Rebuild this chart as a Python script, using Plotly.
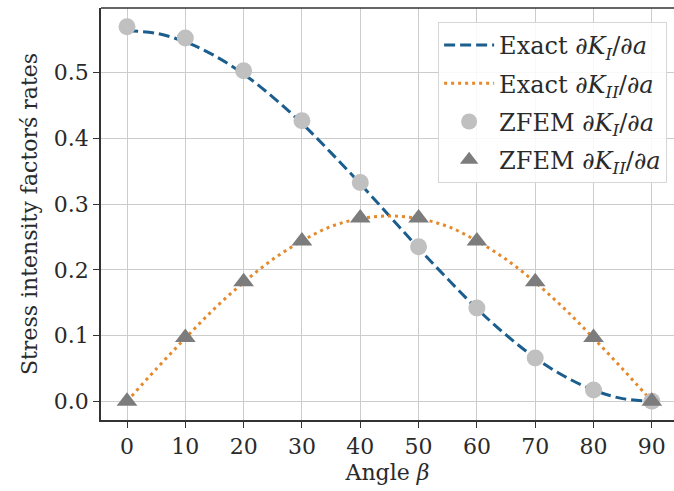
import plotly.graph_objects as go

# Exact curves (every 5 degrees)
beta_exact = [0, 5, 10, 15, 20, 25, 30, 35, 40, 45, 50, 55, 60, 65, 70, 75, 80, 85, 90]
exact_KI = [0.564, 0.560, 0.547, 0.526, 0.498, 0.463, 0.423, 0.378, 0.331, 0.282,
            0.233, 0.186, 0.141, 0.101, 0.066, 0.038, 0.017, 0.004, 0.0]
exact_KII = [0.0, 0.049, 0.096, 0.141, 0.181, 0.216, 0.244, 0.266, 0.278, 0.282,
             0.278, 0.266, 0.244, 0.216, 0.181, 0.141, 0.096, 0.049, 0.0]

# ZFEM points
beta_zfem = [0, 10, 20, 30, 40, 50, 60, 70, 80, 90]
zfem_KI = [0.570, 0.553, 0.503, 0.427, 0.333, 0.235, 0.142, 0.066, 0.017, 0.0]
zfem_KII = [0.0, 0.097, 0.182, 0.244, 0.279, 0.279, 0.244, 0.182, 0.097, 0.0]

x_ticks = [0, 10, 20, 30, 40, 50, 60, 70, 80, 90]
y_ticks = [0.0, 0.1, 0.2, 0.3, 0.4, 0.5]
y_tick_labels = ["0.0", "0.1", "0.2", "0.3", "0.4", "0.5"]

FONT = "DejaVu Serif"
FS = 22
LFS = 24
BLUE = "#1b5e8e"
ORANGE = "#e5892a"
TXT = "#2a2a2a"

fig = go.Figure()
fig.add_trace(go.Scatter(
    x=beta_exact, y=exact_KI, mode="lines", line_shape="spline",
    line=dict(color=BLUE, width=3, dash="11px,5px"),
    name="Exact ∂<i>K</i><sub><i>I</i></sub>/∂<i>a</i>", legendgroup="a"))
fig.add_trace(go.Scatter(
    x=beta_exact, y=exact_KII, mode="lines", line_shape="spline",
    line=dict(color=ORANGE, width=3, dash="3px,4px"),
    name="Exact ∂<i>K</i><sub><i>II</i></sub>/∂<i>a</i>", legendgroup="b"))
fig.add_trace(go.Scatter(
    x=beta_zfem, y=zfem_KI, mode="markers",
    marker=dict(symbol="circle", size=17, color="#c0c0c0"),
    name="ZFEM ∂<i>K</i><sub><i>I</i></sub>/∂<i>a</i>", legendgroup="c"))
fig.add_trace(go.Scatter(
    x=beta_zfem, y=zfem_KII, mode="markers",
    marker=dict(symbol="triangle-up", size=18, color="#7c7c7c"),
    name="ZFEM ∂<i>K</i><sub><i>II</i></sub>/∂<i>a</i>", legendgroup="d"))

fig.update_layout(
    width=674, height=491,
    margin=dict(l=101, r=0, t=8, b=71),
    paper_bgcolor="white", plot_bgcolor="white",
    font=dict(family=FONT, size=FS, color=TXT),
    legend=dict(x=0.988, y=0.966, xanchor="right", yanchor="top",
                bgcolor="rgba(255,255,255,0.85)", bordercolor="#d6d6d6", borderwidth=1,
                tracegroupgap=4, traceorder="grouped", itemwidth=50,
                font=dict(family=FONT, size=LFS, color=TXT)),
)
fig.update_xaxes(
    range=[-4.46, 93.8], tickvals=x_ticks, ticktext=[str(v) for v in x_ticks],
    showgrid=True, gridcolor="#cccccc", gridwidth=1,
    ticks="outside", ticklen=6, tickwidth=1.3, tickcolor="#333",
    showline=True, linecolor="#333", linewidth=1.6, mirror=False,
    zeroline=False,
    title=dict(text="Angle <i>β</i>", standoff=6, font=dict(family=FONT, size=FS)),
)
fig.update_yaxes(
    range=[-0.0285, 0.5985], tickvals=y_ticks, ticktext=y_tick_labels,
    showgrid=True, gridcolor="#cccccc", gridwidth=1,
    ticks="outside", ticklen=6, tickwidth=1.3, tickcolor="#333",
    showline=True, linecolor="#333", linewidth=1.6,
    zeroline=False,
    title=dict(text="Stress intensity factorś rates", standoff=10, font=dict(family=FONT, size=FS)),
)
# top spine
fig.add_shape(type="line", xref="paper", yref="paper", x0=0, x1=1, y0=1, y1=1,
              line=dict(color="#333", width=1.6))

fig.write_html("out.html")
